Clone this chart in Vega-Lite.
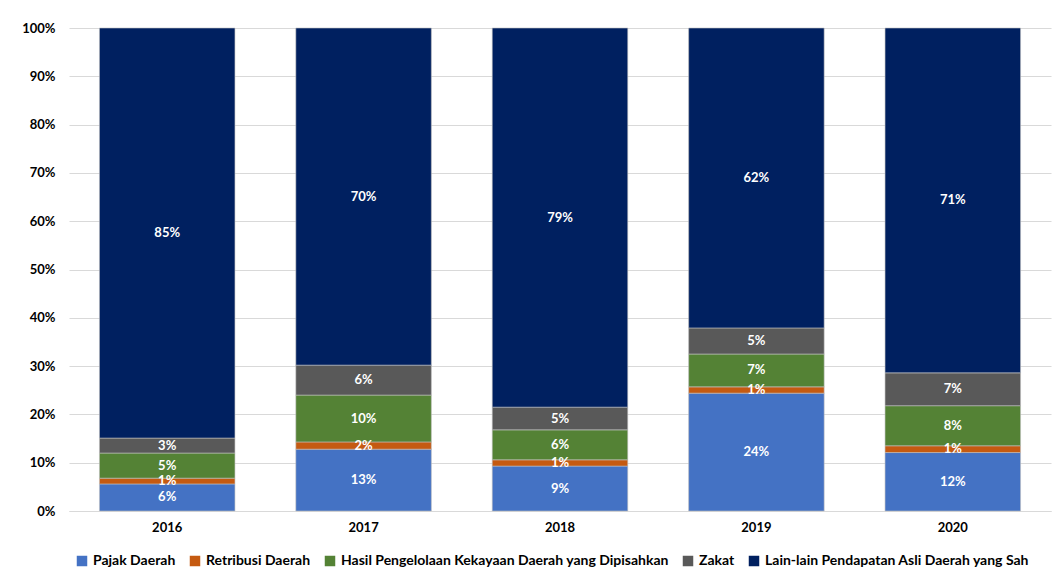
{
  "$schema": "https://vega.github.io/schema/vega-lite/v6.json",
  "width": 982,
  "height": 483,
  "autosize": {"type": "none"},
  "padding": {"left": 69, "top": 28, "right": 2, "bottom": 67},
  "background": "white",
  "config": {
    "view": {"stroke": null},
    "font": "Lato",
    "axis": {"labelFont": "Lato", "labelFontWeight": "bold", "labelFontSize": 13, "labelColor": "#000000"},
    "legend": {"labelFont": "Lato", "labelFontWeight": "bold", "labelFontSize": 14, "labelColor": "#000000"}
  },
  "data": {
    "values": [
      {"year": "2016", "cat": "Pajak Daerah", "k": 1, "v": 0.056},
      {"year": "2016", "cat": "Retribusi Daerah", "k": 2, "v": 0.012},
      {"year": "2016", "cat": "Hasil Pengelolaan Kekayaan Daerah yang Dipisahkan", "k": 3, "v": 0.052},
      {"year": "2016", "cat": "Zakat", "k": 4, "v": 0.031},
      {"year": "2016", "cat": "Lain-lain Pendapatan Asli Daerah yang Sah", "k": 5, "v": 0.849},
      {"year": "2017", "cat": "Pajak Daerah", "k": 1, "v": 0.128},
      {"year": "2017", "cat": "Retribusi Daerah", "k": 2, "v": 0.015},
      {"year": "2017", "cat": "Hasil Pengelolaan Kekayaan Daerah yang Dipisahkan", "k": 3, "v": 0.097},
      {"year": "2017", "cat": "Zakat", "k": 4, "v": 0.062},
      {"year": "2017", "cat": "Lain-lain Pendapatan Asli Daerah yang Sah", "k": 5, "v": 0.698},
      {"year": "2018", "cat": "Pajak Daerah", "k": 1, "v": 0.093},
      {"year": "2018", "cat": "Retribusi Daerah", "k": 2, "v": 0.013},
      {"year": "2018", "cat": "Hasil Pengelolaan Kekayaan Daerah yang Dipisahkan", "k": 3, "v": 0.062},
      {"year": "2018", "cat": "Zakat", "k": 4, "v": 0.047},
      {"year": "2018", "cat": "Lain-lain Pendapatan Asli Daerah yang Sah", "k": 5, "v": 0.785},
      {"year": "2019", "cat": "Pajak Daerah", "k": 1, "v": 0.244},
      {"year": "2019", "cat": "Retribusi Daerah", "k": 2, "v": 0.013},
      {"year": "2019", "cat": "Hasil Pengelolaan Kekayaan Daerah yang Dipisahkan", "k": 3, "v": 0.068},
      {"year": "2019", "cat": "Zakat", "k": 4, "v": 0.054},
      {"year": "2019", "cat": "Lain-lain Pendapatan Asli Daerah yang Sah", "k": 5, "v": 0.621},
      {"year": "2020", "cat": "Pajak Daerah", "k": 1, "v": 0.121},
      {"year": "2020", "cat": "Retribusi Daerah", "k": 2, "v": 0.014},
      {"year": "2020", "cat": "Hasil Pengelolaan Kekayaan Daerah yang Dipisahkan", "k": 3, "v": 0.083},
      {"year": "2020", "cat": "Zakat", "k": 4, "v": 0.068},
      {"year": "2020", "cat": "Lain-lain Pendapatan Asli Daerah yang Sah", "k": 5, "v": 0.714}
    ]
  },
  "encoding": {
    "x": {
      "field": "year", "type": "nominal",
      "scale": {"paddingInner": 0.31, "paddingOuter": 0.155},
      "axis": {"title": null, "labelAngle": 0, "ticks": false, "domainColor": "#d9d9d9", "labelPadding": 10}
    }
  },
  "layer": [
    {
      "mark": {"type": "bar", "stroke": "#bfbfbf", "strokeWidth": 0.6},
      "encoding": {
        "y": {
          "field": "v", "type": "quantitative", "stack": "zero",
          "scale": {"domain": [0, 1]},
          "axis": {"title": null, "format": ".0%", "tickCount": 10, "ticks": false, "domain": false, "gridColor": "#d9d9d9", "labelPadding": 14}
        },
        "order": {"field": "k", "type": "quantitative"},
        "color": {
          "field": "cat", "type": "nominal",
          "scale": {
            "domain": ["Pajak Daerah", "Retribusi Daerah", "Hasil Pengelolaan Kekayaan Daerah yang Dipisahkan", "Zakat", "Lain-lain Pendapatan Asli Daerah yang Sah"],
            "range": ["#4472C4", "#C55A11", "#548235", "#595959", "#002060"]
          },
          "legend": {
            "title": null, "orient": "none", "direction": "horizontal", "columns": 5,
            "legendX": 6, "legendY": 526, "symbolType": "square", "symbolSize": 110,
            "symbolStrokeWidth": 0, "columnPadding": 12, "labelOffset": 4, "labelLimit": 0
          }
        }
      }
    },
    {
      "mark": {"type": "text", "color": "white", "fontWeight": "bold", "fontSize": 13, "baseline": "middle"},
      "encoding": {
        "y": {"field": "v", "type": "quantitative", "stack": "zero", "bandPosition": 0.5},
        "order": {"field": "k", "type": "quantitative"},
        "detail": {"field": "cat"},
        "text": {"field": "v", "type": "quantitative", "format": ".0%"}
      }
    }
  ]
}
